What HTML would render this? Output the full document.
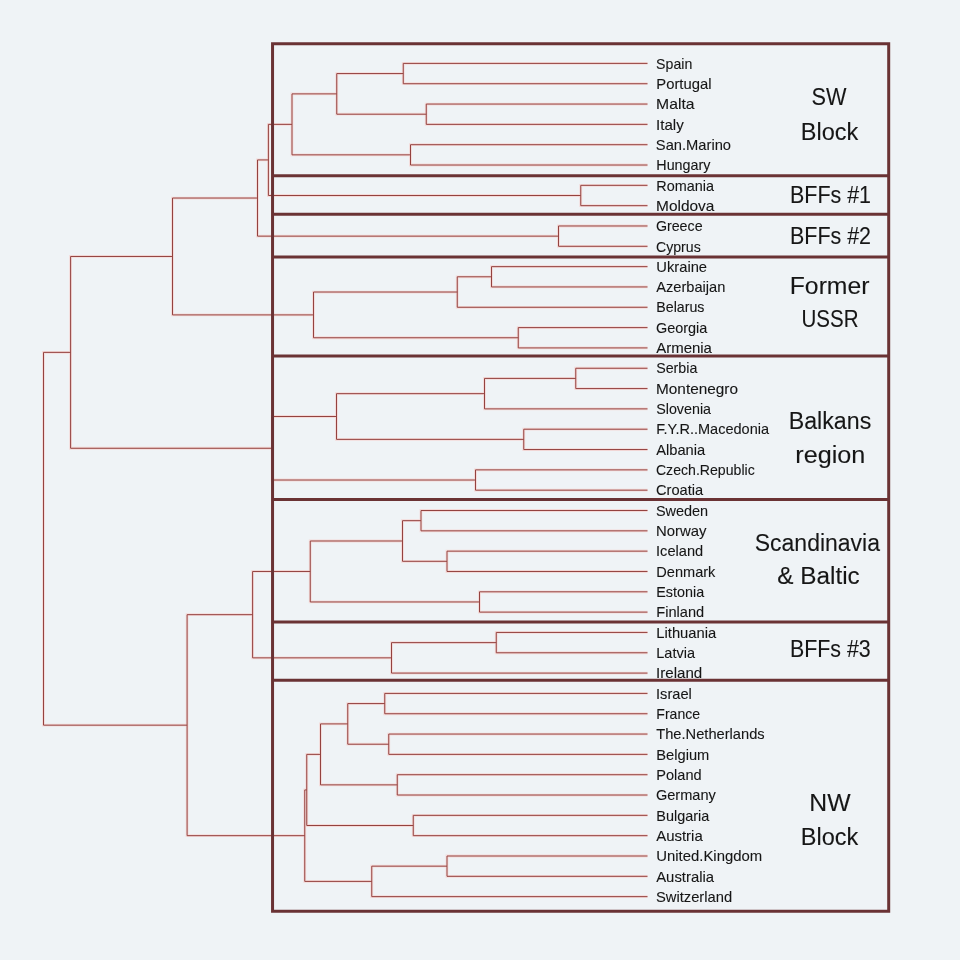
<!DOCTYPE html>
<html><head><meta charset="utf-8"><title>Dendrogram</title>
<style>
html,body{margin:0;padding:0;background:#eff3f6;}
body{width:960px;height:960px;overflow:hidden;font-family:"Liberation Sans",sans-serif;}
svg{display:block}
text{font-family:"Liberation Sans",sans-serif;fill:#161616;stroke:#161616;stroke-width:0.1px;}
.lf{font-size:14.2px;}
.lb{font-size:23.5px;stroke-width:0.3px;}
</style></head><body>
<svg width="960" height="960" viewBox="0 0 960 960">
<rect width="960" height="960" fill="#eff3f6"/>
<g fill="none" stroke="rgba(255,165,155,0.32)" stroke-width="2.8" stroke-linejoin="miter">
<path d="M647.50 63.40H403.25V83.72H647.50M647.50 104.05H426.25V124.37H647.50M403.25 73.56H336.75V114.21H426.25M647.50 144.69H410.50V165.02H647.50M336.75 93.88H292.00V154.85H410.50M647.50 185.34H580.75V205.66H647.50M292.00 124.37H268.40V195.50H580.75M647.50 225.98H558.50V246.31H647.50M268.40 159.93H257.50V236.15H558.50M647.50 266.63H491.50V286.95H647.50M491.50 276.79H457.25V307.28H647.50M647.50 327.60H518.25V347.92H647.50M457.25 292.03H313.50V337.76H518.25M257.50 198.04H172.50V314.90H313.50M647.50 368.25H575.75V388.57H647.50M575.75 378.41H484.50V408.89H647.50M647.50 429.21H523.75V449.54H647.50M484.50 393.65H336.50V439.38H523.75M647.50 469.86H475.50V490.18H647.50M336.50 416.51H272.20V480.02H475.50M172.50 256.47H70.60V448.27H272.20M647.50 510.51H421.00V530.83H647.50M647.50 551.15H447.00V571.48H647.50M421.00 520.67H402.50V561.31H447.00M647.50 591.80H479.50V612.12H647.50M402.50 540.99H310.25V601.96H479.50M647.50 632.44H496.25V652.77H647.50M496.25 642.61H391.50V673.09H647.50M310.25 571.47H252.60V657.85H391.50M647.50 693.41H384.75V713.74H647.50M647.50 734.06H388.75V754.38H647.50M384.75 703.57H347.75V744.22H388.75M647.50 774.71H397.25V795.03H647.50M347.75 723.90H320.50V784.87H397.25M647.50 815.35H413.25V835.67H647.50M320.50 754.38H306.75V825.51H413.25M647.50 856.00H447.00V876.32H647.50M447.00 866.16H371.75V896.64H647.50M306.75 789.95H304.75V881.40H371.75M252.60 614.66H187.10V835.67H304.75M70.60 352.37H43.50V725.17H187.10"/>
</g><g fill="none" stroke="#94423f" stroke-width="1.0" stroke-linejoin="miter">
<path d="M647.50 63.40H403.25V83.72H647.50"/>
<path d="M647.50 104.05H426.25V124.37H647.50"/>
<path d="M403.25 73.56H336.75V114.21H426.25"/>
<path d="M647.50 144.69H410.50V165.02H647.50"/>
<path d="M336.75 93.88H292.00V154.85H410.50"/>
<path d="M647.50 185.34H580.75V205.66H647.50"/>
<path d="M292.00 124.37H268.40V195.50H580.75"/>
<path d="M647.50 225.98H558.50V246.31H647.50"/>
<path d="M268.40 159.93H257.50V236.15H558.50"/>
<path d="M647.50 266.63H491.50V286.95H647.50"/>
<path d="M491.50 276.79H457.25V307.28H647.50"/>
<path d="M647.50 327.60H518.25V347.92H647.50"/>
<path d="M457.25 292.03H313.50V337.76H518.25"/>
<path d="M257.50 198.04H172.50V314.90H313.50"/>
<path d="M647.50 368.25H575.75V388.57H647.50"/>
<path d="M575.75 378.41H484.50V408.89H647.50"/>
<path d="M647.50 429.21H523.75V449.54H647.50"/>
<path d="M484.50 393.65H336.50V439.38H523.75"/>
<path d="M647.50 469.86H475.50V490.18H647.50"/>
<path d="M336.50 416.51H272.20V480.02H475.50"/>
<path d="M172.50 256.47H70.60V448.27H272.20"/>
<path d="M647.50 510.51H421.00V530.83H647.50"/>
<path d="M647.50 551.15H447.00V571.48H647.50"/>
<path d="M421.00 520.67H402.50V561.31H447.00"/>
<path d="M647.50 591.80H479.50V612.12H647.50"/>
<path d="M402.50 540.99H310.25V601.96H479.50"/>
<path d="M647.50 632.44H496.25V652.77H647.50"/>
<path d="M496.25 642.61H391.50V673.09H647.50"/>
<path d="M310.25 571.47H252.60V657.85H391.50"/>
<path d="M647.50 693.41H384.75V713.74H647.50"/>
<path d="M647.50 734.06H388.75V754.38H647.50"/>
<path d="M384.75 703.57H347.75V744.22H388.75"/>
<path d="M647.50 774.71H397.25V795.03H647.50"/>
<path d="M347.75 723.90H320.50V784.87H397.25"/>
<path d="M647.50 815.35H413.25V835.67H647.50"/>
<path d="M320.50 754.38H306.75V825.51H413.25"/>
<path d="M647.50 856.00H447.00V876.32H647.50"/>
<path d="M447.00 866.16H371.75V896.64H647.50"/>
<path d="M306.75 789.95H304.75V881.40H371.75"/>
<path d="M252.60 614.66H187.10V835.67H304.75"/>
<path d="M70.60 352.37H43.50V725.17H187.10"/>
</g>
<defs><filter id="g" x="0" y="0" width="960" height="960" filterUnits="userSpaceOnUse" color-interpolation-filters="sRGB"><feColorMatrix type="saturate" values="0"/></filter></defs>
<g filter="url(#g)"><g class="lf">
<text x="656.10" y="68.60" textLength="36.16" lengthAdjust="spacingAndGlyphs">Spain</text>
<text x="656.30" y="88.92" textLength="55.18" lengthAdjust="spacingAndGlyphs">Portugal</text>
<text x="656.05" y="109.25" textLength="38.46" lengthAdjust="spacingAndGlyphs">Malta</text>
<text x="656.05" y="129.57" textLength="27.70" lengthAdjust="spacingAndGlyphs">Italy</text>
<text x="655.85" y="149.89" textLength="75.20" lengthAdjust="spacingAndGlyphs">San.Marino</text>
<text x="656.30" y="170.22" textLength="54.15" lengthAdjust="spacingAndGlyphs">Hungary</text>
<text x="656.30" y="190.54" textLength="57.68" lengthAdjust="spacingAndGlyphs">Romania</text>
<text x="656.05" y="210.86" textLength="58.34" lengthAdjust="spacingAndGlyphs">Moldova</text>
<text x="655.95" y="231.18" textLength="46.60" lengthAdjust="spacingAndGlyphs">Greece</text>
<text x="655.95" y="251.51" textLength="44.80" lengthAdjust="spacingAndGlyphs">Cyprus</text>
<text x="656.30" y="271.83" textLength="50.76" lengthAdjust="spacingAndGlyphs">Ukraine</text>
<text x="656.20" y="292.15" textLength="69.16" lengthAdjust="spacingAndGlyphs">Azerbaijan</text>
<text x="656.30" y="312.48" textLength="48.16" lengthAdjust="spacingAndGlyphs">Belarus</text>
<text x="655.95" y="332.80" textLength="51.42" lengthAdjust="spacingAndGlyphs">Georgia</text>
<text x="656.20" y="353.12" textLength="55.76" lengthAdjust="spacingAndGlyphs">Armenia</text>
<text x="656.20" y="373.44" textLength="41.16" lengthAdjust="spacingAndGlyphs">Serbia</text>
<text x="656.05" y="393.77" textLength="81.91" lengthAdjust="spacingAndGlyphs">Montenegro</text>
<text x="656.20" y="414.09" textLength="54.86" lengthAdjust="spacingAndGlyphs">Slovenia</text>
<text x="656.30" y="434.41" textLength="112.77" lengthAdjust="spacingAndGlyphs">F.Y.R..Macedonia</text>
<text x="656.20" y="454.74" textLength="49.06" lengthAdjust="spacingAndGlyphs">Albania</text>
<text x="655.95" y="475.06" textLength="98.80" lengthAdjust="spacingAndGlyphs">Czech.Republic</text>
<text x="655.95" y="495.38" textLength="47.22" lengthAdjust="spacingAndGlyphs">Croatia</text>
<text x="655.95" y="515.71" textLength="52.22" lengthAdjust="spacingAndGlyphs">Sweden</text>
<text x="656.05" y="536.03" textLength="50.50" lengthAdjust="spacingAndGlyphs">Norway</text>
<text x="656.05" y="556.35" textLength="47.15" lengthAdjust="spacingAndGlyphs">Iceland</text>
<text x="656.30" y="576.68" textLength="59.10" lengthAdjust="spacingAndGlyphs">Denmark</text>
<text x="656.30" y="597.00" textLength="47.89" lengthAdjust="spacingAndGlyphs">Estonia</text>
<text x="656.30" y="617.32" textLength="47.89" lengthAdjust="spacingAndGlyphs">Finland</text>
<text x="656.30" y="637.64" textLength="59.98" lengthAdjust="spacingAndGlyphs">Lithuania</text>
<text x="656.30" y="657.97" textLength="38.70" lengthAdjust="spacingAndGlyphs">Latvia</text>
<text x="656.05" y="678.29" textLength="46.25" lengthAdjust="spacingAndGlyphs">Ireland</text>
<text x="656.05" y="698.61" textLength="35.80" lengthAdjust="spacingAndGlyphs">Israel</text>
<text x="656.30" y="718.94" textLength="43.76" lengthAdjust="spacingAndGlyphs">France</text>
<text x="656.25" y="739.26" textLength="108.40" lengthAdjust="spacingAndGlyphs">The.Netherlands</text>
<text x="656.30" y="759.58" textLength="52.98" lengthAdjust="spacingAndGlyphs">Belgium</text>
<text x="656.30" y="779.91" textLength="45.29" lengthAdjust="spacingAndGlyphs">Poland</text>
<text x="655.95" y="800.23" textLength="59.89" lengthAdjust="spacingAndGlyphs">Germany</text>
<text x="656.30" y="820.55" textLength="52.98" lengthAdjust="spacingAndGlyphs">Bulgaria</text>
<text x="656.20" y="840.87" textLength="46.56" lengthAdjust="spacingAndGlyphs">Austria</text>
<text x="656.30" y="861.20" textLength="105.86" lengthAdjust="spacingAndGlyphs">United.Kingdom</text>
<text x="656.20" y="881.52" textLength="57.86" lengthAdjust="spacingAndGlyphs">Australia</text>
<text x="655.95" y="901.84" textLength="76.21" lengthAdjust="spacingAndGlyphs">Switzerland</text>
</g>
<g class="lb">
<text x="811.50" y="105" textLength="34.97" lengthAdjust="spacingAndGlyphs">SW</text>
<text x="800.75" y="139.5" textLength="57.49" lengthAdjust="spacingAndGlyphs">Block</text>
<text x="790.00" y="203.25" textLength="81.03" lengthAdjust="spacingAndGlyphs">BFFs #1</text>
<text x="790.00" y="243.75" textLength="81.03" lengthAdjust="spacingAndGlyphs">BFFs #2</text>
<text x="789.75" y="293.75" textLength="79.76" lengthAdjust="spacingAndGlyphs">Former</text>
<text x="801.50" y="327" textLength="57.02" lengthAdjust="spacingAndGlyphs">USSR</text>
<text x="788.75" y="428.75" textLength="82.52" lengthAdjust="spacingAndGlyphs">Balkans</text>
<text x="795.25" y="463.25" textLength="70.05" lengthAdjust="spacingAndGlyphs">region</text>
<text x="754.75" y="550.5" textLength="125.24" lengthAdjust="spacingAndGlyphs">Scandinavia</text>
<text x="777.25" y="583.75" textLength="82.49" lengthAdjust="spacingAndGlyphs">&amp; Baltic</text>
<text x="790.00" y="657" textLength="80.77" lengthAdjust="spacingAndGlyphs">BFFs #3</text>
<text x="809.25" y="811.25" textLength="41.28" lengthAdjust="spacingAndGlyphs">NW</text>
<text x="800.75" y="845" textLength="57.49" lengthAdjust="spacingAndGlyphs">Block</text>
</g></g>
<g fill="none" stroke="#6a3234" stroke-width="3">
<rect x="272.55" y="43.75" width="616.15" height="867.50"/>
<path d="M272.55 175.7H888.7"/>
<path d="M272.55 214.25H888.7"/>
<path d="M272.55 257H888.7"/>
<path d="M272.55 356H888.7"/>
<path d="M272.55 499.5H888.7"/>
<path d="M272.55 622H888.7"/>
<path d="M272.55 680.25H888.7"/>
</g></svg></body></html>
